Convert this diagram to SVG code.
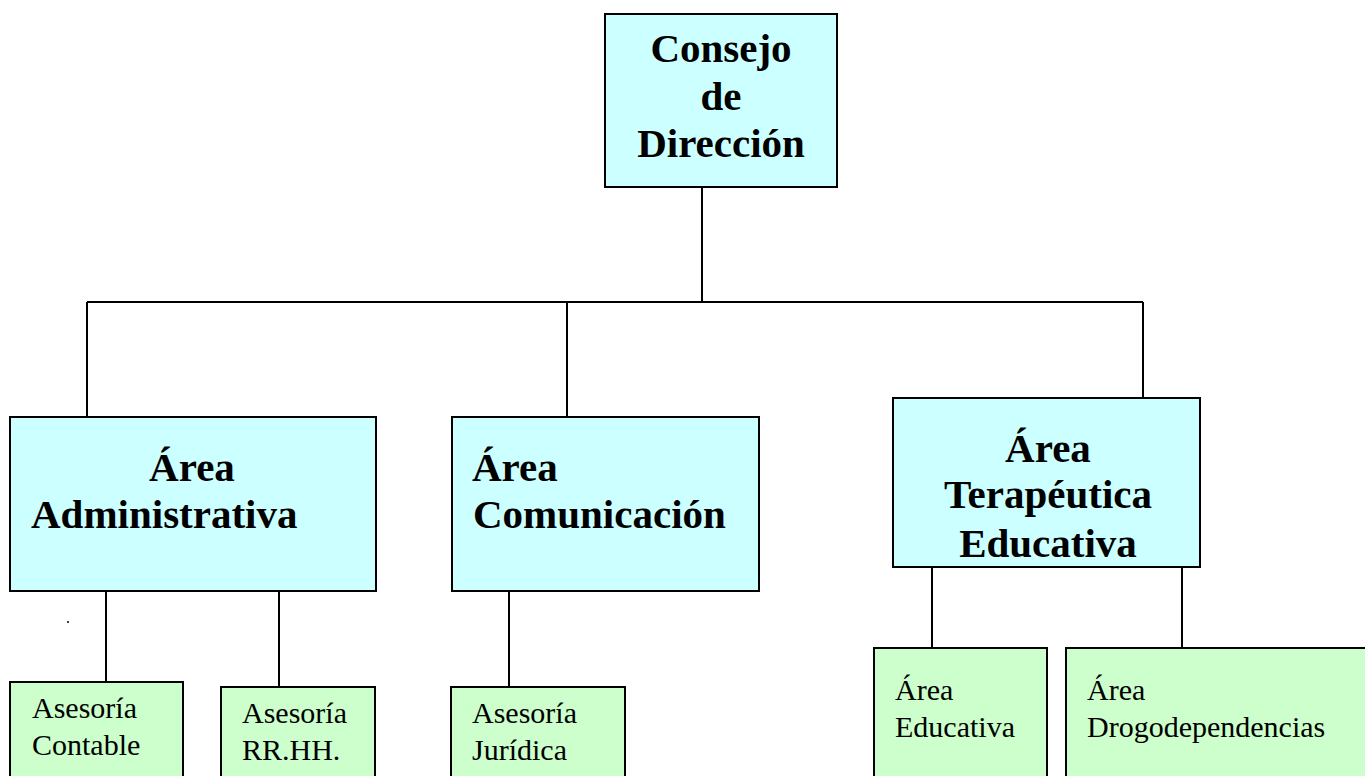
<svg xmlns="http://www.w3.org/2000/svg" width="1365" height="776" viewBox="0 0 1365 776">
<style>
.main{fill:#CCFFFF;stroke:#000;stroke-width:2}
.sub{fill:#CCFFCC;stroke:#000;stroke-width:2}
.b{font-family:"Liberation Serif","Times New Roman",serif;font-weight:bold;font-size:41px;fill:#000}
.r{font-family:"Liberation Serif","Times New Roman",serif;font-size:30px;fill:#000}
.c{text-anchor:middle}
.ln{stroke:#000;stroke-width:2;fill:none}
</style>
<rect x="0" y="0" width="1365" height="776" fill="#fff"/>
<g id="connectors">
<line class="ln" x1="702" y1="187" x2="702" y2="302"/>
<line class="ln" x1="87" y1="302" x2="1143" y2="302"/>
<line class="ln" x1="87" y1="302" x2="87" y2="417"/>
<line class="ln" x1="567" y1="302" x2="567" y2="417"/>
<line class="ln" x1="1143" y1="302" x2="1143" y2="398"/>
<line class="ln" x1="106" y1="591" x2="106" y2="682"/>
<line class="ln" x1="279" y1="591" x2="279" y2="687"/>
<line class="ln" x1="509" y1="591" x2="509" y2="687"/>
<line class="ln" x1="932" y1="567" x2="932" y2="648"/>
<line class="ln" x1="1182" y1="567" x2="1182" y2="648"/>
</g>
<g id="consejo">
<rect class="main" x="605" y="14" width="232" height="173"/>
<text class="b c" x="721" y="62">Consejo</text>
<text class="b c" x="721" y="110">de</text>
<text class="b c" x="721" y="157">Dirección</text>
</g>
<g id="administrativa">
<rect class="main" x="10" y="417" width="366" height="174"/>
<text class="b c" x="192" y="481">Área</text>
<text class="b" x="31" y="528">Administrativa</text>
</g>
<g id="comunicacion">
<rect class="main" x="452" y="417" width="307" height="174"/>
<text class="b" x="472" y="481">Área</text>
<text class="b" x="473" y="528">Comunicación</text>
</g>
<g id="terapeutica">
<rect class="main" x="893" y="398" width="307" height="169"/>
<text class="b c" x="1048" y="462">Área</text>
<text class="b c" x="1048" y="508">Terapéutica</text>
<text class="b c" x="1048" y="557">Educativa</text>
</g>
<g id="contable">
<rect class="sub" x="10" y="682" width="173" height="110"/>
<text class="r" x="32" y="718">Asesoría</text>
<text class="r" x="32" y="755">Contable</text>
</g>
<g id="rrhh">
<rect class="sub" x="221" y="687" width="154" height="105"/>
<text class="r" x="242" y="723">Asesoría</text>
<text class="r" x="242" y="760">RR.HH.</text>
</g>
<g id="juridica">
<rect class="sub" x="451" y="687" width="174" height="105"/>
<text class="r" x="472" y="723">Asesoría</text>
<text class="r" x="472" y="760">Jurídica</text>
</g>
<g id="educativa">
<rect class="sub" x="874" y="648" width="173" height="144"/>
<text class="r" x="895" y="700">Área</text>
<text class="r" x="895" y="737">Educativa</text>
</g>
<g id="drogodependencias">
<rect class="sub" x="1066" y="648" width="320" height="144"/>
<text class="r" x="1087" y="700">Área</text>
<text class="r" x="1087" y="737">Drogodependencias</text>
</g>
<circle cx="68" cy="622" r="1" fill="#000"/>
</svg>
